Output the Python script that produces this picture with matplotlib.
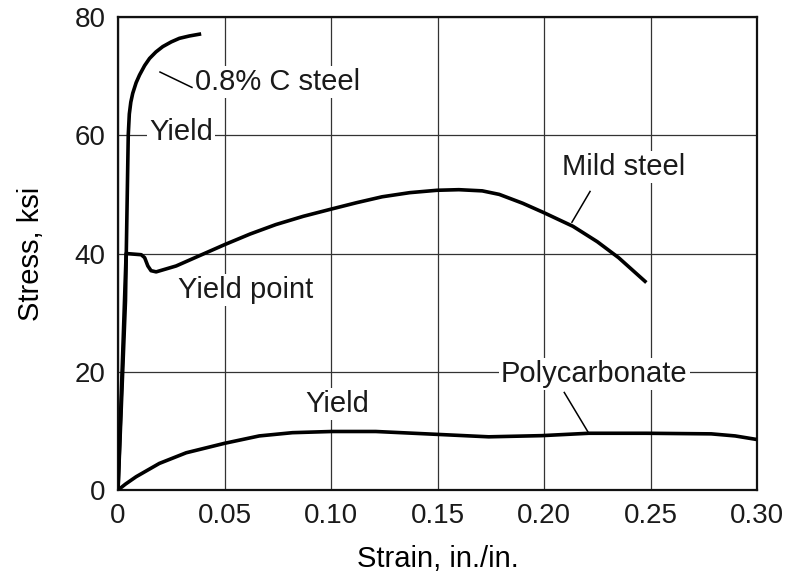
import numpy as np
import matplotlib.pyplot as plt
import matplotlib as mpl

mpl.rcParams.update({
    "font.family": ["Liberation Sans", "DejaVu Sans"],
    "font.size": 20,
    "text.color": "#1a1a1a",
})

# 0.8% C steel
c_strain = [0, 0.0035, 0.0048, 0.0053, 0.006, 0.0069, 0.0085, 0.0101, 0.0125, 0.0148,
            0.0178, 0.021, 0.025, 0.0288, 0.0335, 0.0382]
c_stress = [0, 32.0, 60.0, 63.6, 65.6, 67.1, 68.9, 70.2, 71.8, 73.0,
            74.1, 75.0, 75.8, 76.4, 76.8, 77.1]

# mild steel
m_strain = [0, 0.0038, 0.0109, 0.0125, 0.014, 0.0155, 0.0179, 0.0273, 0.038, 0.05, 0.062,
            0.0741, 0.087, 0.0999, 0.112, 0.124, 0.137, 0.1498, 0.16, 0.171, 0.179,
            0.19, 0.20, 0.2136, 0.225, 0.235, 0.2474]
m_stress = [0, 40.0, 39.8, 39.3, 37.9, 37.1, 36.9, 37.9, 39.6, 41.5, 43.3,
            44.9, 46.3, 47.5, 48.6, 49.6, 50.3, 50.7, 50.8, 50.6, 50.0,
            48.5, 46.9, 44.6, 42.0, 39.3, 35.3]

# polycarbonate
p_strain = [0, 0.0035, 0.0085, 0.0194, 0.032, 0.05, 0.0663, 0.0819, 0.1003, 0.121,
            0.1506, 0.174, 0.199, 0.221, 0.248, 0.2785, 0.2897, 0.299]
p_stress = [0, 1.0, 2.25, 4.5, 6.3, 7.9, 9.15, 9.7, 9.9, 9.9,
            9.4, 9.0, 9.2, 9.6, 9.6, 9.5, 9.15, 8.6]

xticks = [0, 0.05, 0.10, 0.15, 0.20, 0.25, 0.30]
xtick_labels = ["0", "0.05", "0.10", "0.15", "0.20", "0.25", "0.30"]
yticks = [0, 20, 40, 60, 80]

fig = plt.figure(figsize=(7.9, 5.74), dpi=100)
ax = fig.add_axes([0.1494, 0.1463, 0.8089, 0.8240])

ax.set_xlim(0, 0.30)
ax.set_ylim(0, 80)
ax.set_xticks(xticks)
ax.set_xticklabels(xtick_labels)
ax.set_yticks(yticks)
ax.grid(True, color="#333333", linewidth=0.9)
ax.set_axisbelow(True)
ax.tick_params(length=0, pad=9, labelcolor="#1a1a1a")
for s in ax.spines.values():
    s.set_linewidth(1.6)
    s.set_color("#111111")

lw = 2.6
ax.plot(c_strain, c_stress, color="k", linewidth=lw, solid_joinstyle="round", zorder=3)
ax.plot(m_strain, m_stress, color="k", linewidth=lw, solid_joinstyle="round", zorder=3)
ax.plot(p_strain, p_stress, color="k", linewidth=lw, solid_joinstyle="round", zorder=3)

# leader lines
ax.plot([0.0197, 0.0347], [70.7, 68.1], color="k", linewidth=1.1, zorder=3)
ax.plot([0.2216, 0.2131], [50.5, 45.3], color="k", linewidth=1.1, zorder=3)
ax.plot([0.2095, 0.2210], [16.5, 9.6], color="k", linewidth=1.1, zorder=3)

box = dict(facecolor="white", edgecolor="none", pad=1.5)
fs = 21
ax.text(0.0362, 69.0, "0.8% C steel", fontsize=fs, ha="left", va="center", bbox=box, zorder=2)
ax.text(0.0146, 60.5, "Yield", fontsize=fs, ha="left", va="center", bbox=box, zorder=2)
ax.text(0.0282, 33.9, "Yield point", fontsize=fs, ha="left", va="center", bbox=box, zorder=2)
ax.text(0.2085, 54.7, "Mild steel", fontsize=fs, ha="left", va="center", bbox=box, zorder=2)
ax.text(0.1798, 19.6, "Polycarbonate", fontsize=fs, ha="left", va="center", bbox=box, zorder=2)
ax.text(0.0880, 14.6, "Yield", fontsize=fs, ha="left", va="center", bbox=box, zorder=2)

ax.set_xlabel("Strain, in./in.", fontsize=21, labelpad=12)
ax.set_ylabel("Stress, ksi", fontsize=21, labelpad=21)

fig.savefig("out.png", dpi=100)
